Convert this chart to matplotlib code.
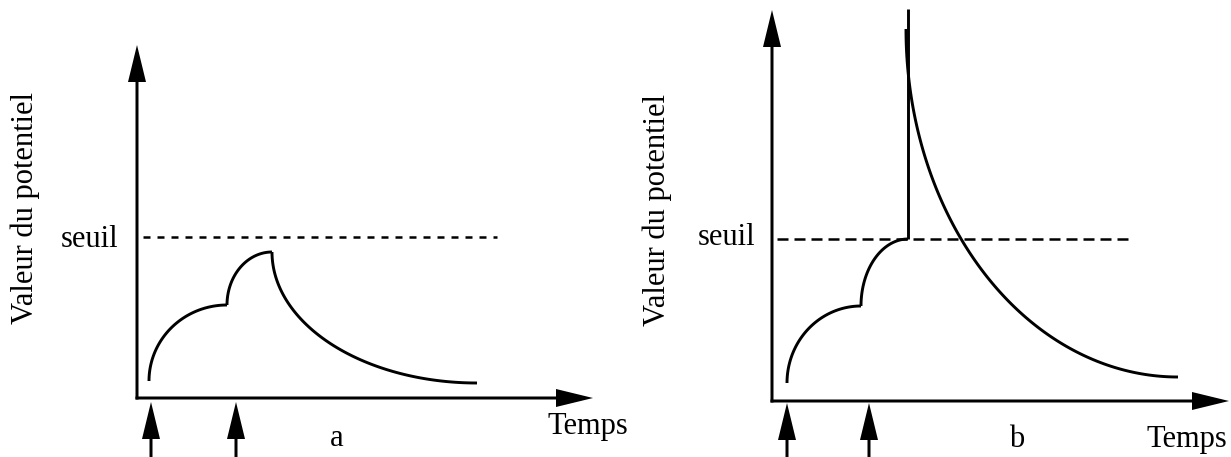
import numpy as np
import matplotlib
matplotlib.use('Agg')
import matplotlib.pyplot as plt

plt.rcParams['font.family'] = ['Liberation Serif', 'DejaVu Serif']

# units: 1 = 10 px, origin at the corner of the drawn axes
# panel a : two inputs, potential stays under threshold
a_knots_t = [1.2, 9.0, 13.5, 34.0]
a_knots_v = [1.7, 9.3, 14.6, 1.5]
a_inputs = [1.4, 9.9]
a_seuil = 16.1
a_dash = [0.6, 36.0]

# panel b : two inputs, threshold reached -> spike
b_knots_t = [1.5, 8.9, 13.6]
b_knots_v = [1.8, 9.5, 16.2]
b_spike_top = 39.2
b_decay_t = [13.4, 40.6]
b_decay_v = [37.2, 2.4]
b_inputs = [1.5, 9.7]
b_seuil = 16.2
b_dash = [0.5, 35.8]

ylabel = "Valeur du potentiel"
xlabel = "Temps"


def quarter(t0, v0, t1, v1, n=120):
    # quarter ellipse: vertical tangent at start, horizontal at end
    th = np.linspace(0, np.pi / 2, n)
    return t1 - (t1 - t0) * np.cos(th), v0 + (v1 - v0) * np.sin(th)


def arrow(ax, x0, y0, x1, y1, w=0.3):
    ax.arrow(x0, y0, x1 - x0, y1 - y0, width=w, head_width=1.8, head_length=3.7,
             length_includes_head=True, fc='k', ec='none', lw=0)


def frame(ax, xtip, ytip, inputs, intip, seuil, dash, dash_style):
    arrow(ax, 0, -0.15, 0, ytip)
    arrow(ax, -0.15, 0, xtip, 0)
    for t in inputs:
        arrow(ax, t, -8, t, intip)
    ax.plot(dash, [seuil, seuil], color='k', lw=1.8, linestyle=dash_style)


fig = plt.figure(figsize=(12.31, 4.57), dpi=100)
axa = fig.add_axes([0, 0, 0.5, 1])
axb = fig.add_axes([0.5, 0, 0.5, 1])
fs = 22

# ---- panel a
frame(axa, 45.6, 35.3, a_inputs, -0.4, a_seuil, a_dash, (0, (2.8, 2.8)))
for i in range(len(a_knots_t) - 1):
    x, y = quarter(a_knots_t[i], a_knots_v[i], a_knots_t[i + 1], a_knots_v[i + 1])
    axa.plot(x, y, color='k', lw=2.1, solid_capstyle='butt')
axa.text(-11.15, 18.95, ylabel, rotation=90, ha='center', va='center', fontsize=fs)
axa.text(-1.9, 15.1, "seuil", ha='right', va='baseline', fontsize=fs)
axa.text(41.0, -3.6, xlabel, ha='left', va='baseline', fontsize=fs)
axa.text(19.95, -4.8, "a", ha='center', va='baseline', fontsize=fs)
axa.set_xlim(-13.7, 47.85)
axa.set_ylim(-5.9, 39.8)
axa.set_axis_off()

# ---- panel b
frame(axb, 45.7, 39.1, b_inputs, -0.2, b_seuil, b_dash, (0, (4.4, 2.4)))
for i in range(len(b_knots_t) - 1):
    x, y = quarter(b_knots_t[i], b_knots_v[i], b_knots_t[i + 1], b_knots_v[i + 1])
    axb.plot(x, y, color='k', lw=2.1, solid_capstyle='butt')
axb.plot([b_knots_t[-1], b_knots_t[-1]], [b_knots_v[-1], b_spike_top], color='k', lw=2.1,
         solid_capstyle='butt')
x, y = quarter(b_decay_t[0], b_decay_v[0], b_decay_t[1], b_decay_v[1])
axb.plot(x, y, color='k', lw=2.1, solid_capstyle='butt')
axb.text(-11.5, 19.1, ylabel, rotation=90, ha='center', va='center', fontsize=fs)
axb.text(-1.7, 15.6, "seuil", ha='right', va='baseline', fontsize=fs)
axb.text(45.5, -4.6, xlabel, ha='right', va='baseline', fontsize=fs)
axb.text(24.5, -4.6, "b", ha='center', va='baseline', fontsize=fs)
axb.set_xlim(-15.65, 45.9)
axb.set_ylim(-5.6, 40.1)
axb.set_axis_off()

fig.savefig('out.png', dpi=100)
